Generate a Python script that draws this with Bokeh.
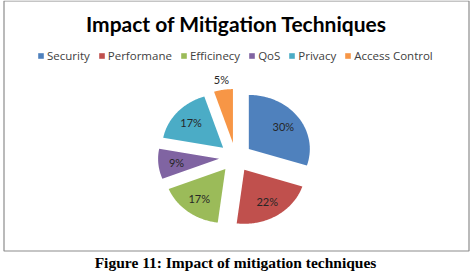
import numpy as np
from bokeh.plotting import figure
from bokeh.models import ColumnDataSource, Range1d, Legend, LegendItem
from bokeh.core.properties import value
from bokeh.embed import file_html
from bokeh.resources import INLINE

# Chart data
categories = ["Security", "Performane", "Efficinecy", "QoS", "Privacy", "Access Control"]
shares = [30, 22, 17, 9, 17, 5]
colors = ["#4F81BD", "#C0504D", "#9BBB59", "#8064A2", "#4BACC6", "#F79646"]
title_text = "Impact of Mitigation Techniques"
caption_text = "Figure 11: Impact of mitigation techniques"

W, H = 476, 274
p = figure(width=W, height=H, x_range=Range1d(0, W), y_range=Range1d(H, 0),
           output_backend="svg", toolbar_location=None, min_border=0,
           x_axis_location=None, y_axis_location=None)
p.grid.visible = False
p.outline_line_color = None
p.background_fill_color = "white"
p.border_fill_color = "white"

# chart area frame
p.quad(left=3.5, right=468.5, top=0.5, bottom=250.5,
       fill_color=None, line_color="#8c8c8c", line_width=1.2)

# exploded pie (slightly elliptical), clockwise from 12 o'clock
cx, cy, rx, ry = 235.0, 157.0, 61.0, 54.0
explode = 0.27
total = float(sum(shares))
bounds = np.concatenate([[0.0], np.cumsum(shares)]) / total * 2 * np.pi

xs, ys, lx, ly = [], [], [], []
for i, v in enumerate(shares):
    a0, a1 = bounds[i], bounds[i + 1]
    mid = 0.5 * (a0 + a1)
    vx = cx + explode * rx * np.sin(mid)
    vy = cy - explode * ry * np.cos(mid)
    t = np.linspace(a0, a1, 80)
    xs.append([vx] + list(vx + rx * np.sin(t)))
    ys.append([vy] + list(vy - ry * np.cos(t)))
    f = 0.7 if v >= 8 else 1.2
    lx.append(vx + f * rx * np.sin(mid))
    ly.append(vy - f * ry * np.cos(mid))

src = ColumnDataSource(dict(xs=xs, ys=ys, color=colors, name=categories))
r = p.patches("xs", "ys", source=src, fill_color="color", line_color=None)

lab = ColumnDataSource(dict(x=lx, y=ly, t=[f"{v}%" for v in shares]))
p.text("x", "y", text="t", source=lab, text_align="center", text_baseline="middle",
       text_font=value("Lato"), text_font_size="11px", text_color="#262626")

# title
p.text(x=[236], y=[23], text=[title_text], text_align="center", text_baseline="middle",
       text_font=value("Lato"), text_font_style="bold", text_font_size="21px",
       text_color="#000000")

# caption below the frame
p.text(x=[235], y=[262], text=[caption_text], text_align="center",
       text_baseline="middle", text_font=value("Liberation Serif"),
       text_font_style="bold", text_font_size="15.5px", text_color="#000000")

legend = Legend(items=[LegendItem(label=c, renderers=[r], index=i)
                       for i, c in enumerate(categories)],
                orientation="horizontal", location=(37, 211),
                glyph_width=7, glyph_height=7, label_standoff=3, spacing=8,
                padding=0, margin=0, label_height=14,
                label_text_font="Open Sans", label_text_font_size="11.5px",
                label_text_color="#404040", border_line_color=None,
                background_fill_alpha=0)
p.add_layout(legend)

open("out.html", "w").write(file_html(p, INLINE))
